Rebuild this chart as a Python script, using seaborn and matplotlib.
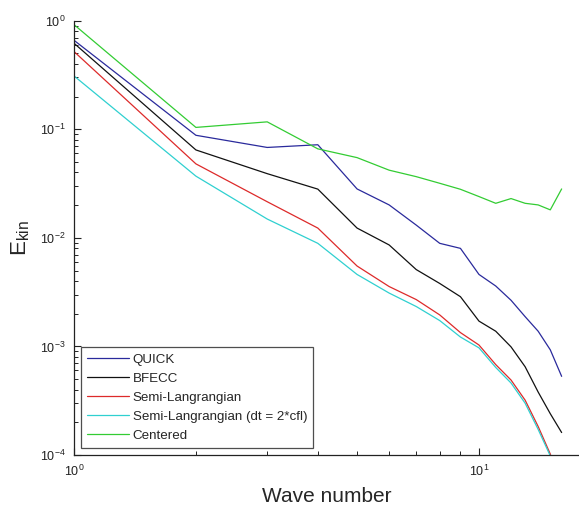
import numpy as np
import pandas as pd
import matplotlib
matplotlib.use("Agg")
import matplotlib.pyplot as plt
import seaborn as sns


# wave numbers and kinetic energy per scheme
WAVE_NUMBERS = list(range(1, 17))
QUICK = [0.66, 0.088, 0.068, 0.072, 0.0282, 0.0201, 0.0131, 0.0089, 0.0080,
         0.0046, 0.0036, 0.00266, 0.00188, 0.00138, 0.00093, 0.00053]
BFECC = [0.62, 0.0645, 0.039, 0.0281, 0.0123, 0.0086, 0.0051, 0.0038, 0.00287,
         0.00171, 0.00138, 0.00099, 0.00065, 0.00038, 0.00024, 0.000161]
SEMI_LAG = [0.52, 0.048, 0.0215, 0.0123, 0.0055, 0.00356, 0.0027, 0.00195, 0.00134,
            0.00103, 0.00068, 0.00049, 0.00032, 0.000183, 0.000102, 0.00005]
SEMI_LAG_2CFL = [0.31, 0.037, 0.0149, 0.0089, 0.0046, 0.0031, 0.00233, 0.00173, 0.00122,
                 0.00097, 0.00064, 0.00046, 0.00030, 0.000172, 0.000098, 0.000047]
CENTERED = [0.92, 0.104, 0.117, 0.066, 0.0548, 0.042, 0.0366, 0.0318, 0.028,
            0.024, 0.0208, 0.023, 0.0208, 0.0201, 0.0181, 0.0282]

SERIES = {
    "QUICK": QUICK,
    "BFECC": BFECC,
    "Semi-Langrangian": SEMI_LAG,
    "Semi-Langrangian (dt = 2*cfl)": SEMI_LAG_2CFL,
    "Centered": CENTERED,
}
COLORS = {
    "QUICK": "#2a2a9c",
    "BFECC": "#111111",
    "Semi-Langrangian": "#dd2a2a",
    "Semi-Langrangian (dt = 2*cfl)": "#2fd0d0",
    "Centered": "#33cc33",
}


def build_frame():
    rows = []
    for name, values in SERIES.items():
        for k, e in zip(WAVE_NUMBERS, values):
            rows.append({"wave": k, "ekin": e, "scheme": name})
    return pd.DataFrame(rows)


sns.set_style("ticks")
plt.rcParams["font.family"] = ["Liberation Sans", "DejaVu Sans"]
plt.rcParams["mathtext.default"] = "regular"

df = build_frame()

fig = plt.figure(figsize=(5.79, 5.07), dpi=100)
ax = fig.add_axes([0.1278, 0.1026, 0.8722, 0.8566])

sns.lineplot(data=df, x="wave", y="ekin", hue="scheme", palette=COLORS,
             hue_order=list(SERIES.keys()), linewidth=0.9, ax=ax, legend=True)

ax.set_xscale("log")
ax.set_yscale("log")
ax.set_xlim(1, 17.66)
ax.set_ylim(1e-4, 1)

for side in ["top", "right"]:
    ax.spines[side].set_visible(False)
for side in ["left", "bottom"]:
    ax.spines[side].set_linewidth(0.9)
    ax.spines[side].set_color("#222222")

ax.tick_params(which="major", direction="in", length=5, width=0.8,
               labelsize=9, colors="#222222", pad=6)
ax.tick_params(which="minor", direction="in", length=3, width=0.7, colors="#222222")

ax.set_xlabel("Wave number", fontsize=15, labelpad=6)
ax.set_ylabel("E$_{kin}$", fontsize=16, labelpad=6)

leg = ax.legend(loc="lower left", fontsize=9.6, frameon=True, fancybox=False,
                handlelength=3.1, borderaxespad=0.55, labelspacing=0.5,
                handletextpad=0.3, borderpad=0.45)
leg.get_frame().set_edgecolor("#222222")
leg.get_frame().set_linewidth(0.9)
for line in leg.get_lines():
    line.set_linewidth(0.9)

plt.savefig("out.png", dpi=100)
plt.close()
